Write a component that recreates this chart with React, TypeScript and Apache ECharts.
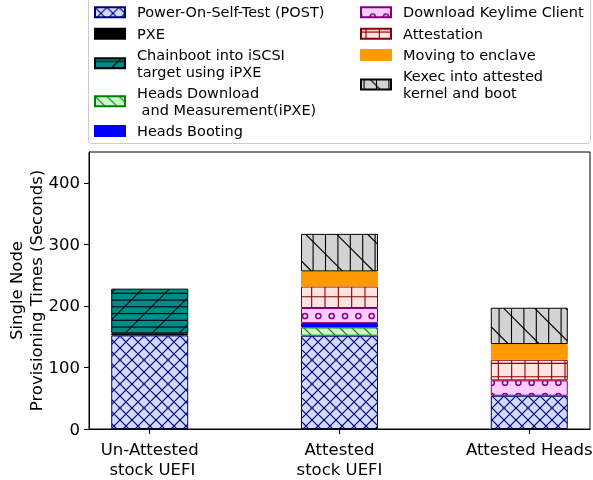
import React, { useEffect, useRef } from 'react';
import * as echarts from 'echarts';

const FONT = '"DejaVu Sans", sans-serif';

const categories = ['Un-Attested\n stock UEFI', 'Attested\nstock UEFI', 'Attested Heads'];
const seriesNames = [
  'Power-On-Self-Test (POST)',
  'PXE',
  'Chainboot into iSCSI\ntarget using iPXE',
  'Heads Download\n and Measurement(iPXE)',
  'Heads Booting',
  'Download Keylime Client',
  'Attestation',
  'Moving to enclave',
  'Kexec into attested\nkernel and boot',
];
const post = [152, 151.5, 54];
const pxe = [3.5, null, null];
const chainboot = [72.5, null, null];
const headsDownload = [null, 13.5, null];
const headsBooting = [null, 7, null];
const keylime = [null, 24.5, 25];
const attestation = [null, 35, 33.5];
const moving = [null, 24.5, 25.5];
const kexec = [null, 61, 59];
const yTicks = [0, 100, 200, 300, 400];

function tile(w: number, h: number, bg: string, inner: string) {
  const svg = `<svg xmlns="http://www.w3.org/2000/svg" width="${w}" height="${h}" viewBox="0 0 ${w} ${h}"><rect width="${w}" height="${h}" fill="${bg}"/>${inner}</svg>`;
  return {
    image: 'data:image/svg+xml;charset=utf-8,' + encodeURIComponent(svg),
    repeat: 'repeat',
    imageWidth: w,
    imageHeight: h,
  };
}
// lines x + y = c
function slash(T: number, cs: number[], stroke: string, w = 1.1) {
  return cs
    .map((c) => `<path d="M${c + 3},-3L-3,${c + 3}" stroke="${stroke}" stroke-width="${w}" fill="none"/>`)
    .join('');
}
// lines x - y = c
function backslash(T: number, cs: number[], stroke: string, w = 1.1) {
  return cs
    .map((c) => `<path d="M-3,${-3 - c}L${T + 3},${T + 3 - c}" stroke="${stroke}" stroke-width="${w}" fill="none"/>`)
    .join('');
}
function hlines(T: number, ys: number[], stroke: string, w = 1.1) {
  return ys.map((y) => `<path d="M-1,${y}L${T + 1},${y}" stroke="${stroke}" stroke-width="${w}"/>`).join('');
}
function vlines(T: number, xs: number[], stroke: string, w = 1.1) {
  return xs.map((x) => `<path d="M${x},-1L${x},${T + 1}" stroke="${stroke}" stroke-width="${w}"/>`).join('');
}

const navy = '#000080';
const postFill = tile(12, 12, '#d0dcfa', slash(12, [0, 12, 24], navy, 1.2) + backslash(12, [-12, 0, 12], navy, 1.2));
const chainFill = tile(
  27,
  27,
  '#008b8b',
  hlines(27, [3.05, 9.8, 16.55, 23.3], '#000') + slash(27, [-0.7, 26.3, 53.3], '#000')
);
const headsDlFill = tile(12, 12, '#ccf5cc', backslash(12, [-12, 0, 12], '#008000'));
const keylimeFill = (() => {
  let inner = '';
  const p = 40 / 3;
  for (let i = -1; i <= 3; i++) {
    for (let j = -1; j <= 3; j++) {
      const cx = 11.7 + p * i;
      const cy = 9.33 + p * j;
      inner += `<circle cx="${cx.toFixed(2)}" cy="${cy.toFixed(2)}" r="2.6" stroke="#800080" stroke-width="1.5" fill="none"/>`;
    }
  }
  return tile(40, 40, '#ffccff', inner);
})();
const attestFill = tile(
  40,
  40,
  '#ffe4e1',
  vlines(40, [5.0, 18.33, 31.67], '#8b0000') + hlines(40, [3.37, 16.7, 30.03], '#8b0000')
);
const kexecFill = tile(
  62,
  62,
  '#d3d3d3',
  vlines(62, [3.1, 15.5, 27.9, 40.3, 52.7], '#000') + backslash(62, [9.4 - 62, 9.4 - 31, 9.4, 40.4, 71.4], '#000')
);

const seriesValues = [post, pxe, chainboot, headsDownload, headsBooting, keylime, attestation, moving, kexec];
const seriesColors: any[] = [postFill, '#000000', chainFill, headsDlFill, '#0000ff', keylimeFill, attestFill, '#ff9900', kexecFill];
const seriesEdges = [navy, '#000000', '#000000', '#008000', '#0000ff', '#800080', '#8b0000', '#ff9900', '#000000'];

// plot frame: x from 89 to 590; data x-range -0.32..2.32
const PLOT_L = 89;
const PLOT_R = 590;
const X_MIN = -0.32;
const X_MAX = 2.32;
const UNIT = (PLOT_R - PLOT_L) / (X_MAX - X_MIN);
const BAR_GRID_L = PLOT_L + (0 - X_MIN) * UNIT - UNIT / 2;
const BAR_GRID_W = categories.length * UNIT;

export default function App() {
  const ref = useRef<HTMLDivElement>(null);
  useEffect(() => {
    if (!ref.current) return;
    const chart = echarts.init(ref.current, undefined, { renderer: 'svg' });
    const legendCommon = {
      orient: 'vertical',
      top: 4,
      itemGap: 4.6,
      itemWidth: 30,
      itemHeight: 10,
      icon: 'rect',
      padding: 0,
      selectedMode: false,
      textStyle: { fontFamily: FONT, fontSize: 14.5, lineHeight: 16.7, color: '#000', padding: [0, 0, 0, 7] },
    };
    chart.setOption({
      animation: false,
      textStyle: { fontFamily: FONT },
      grid: [
        {
          left: PLOT_L,
          width: PLOT_R - PLOT_L,
          top: 152,
          bottom: 51,
          show: true,
          borderColor: '#000',
          borderWidth: 1,
          backgroundColor: 'transparent',
          containLabel: false,
          outerBoundsMode: 'none',
          z: 5,
        },
        {
          left: BAR_GRID_L,
          width: BAR_GRID_W,
          top: 152,
          bottom: 51,
          show: false,
          containLabel: false,
          outerBoundsMode: 'none',
        },
      ],
      legend: [
        { ...legendCommon, left: 94, data: seriesNames.slice(0, 5) },
        { ...legendCommon, left: 360, data: seriesNames.slice(5) },
      ],
      graphic: [
        {
          type: 'rect',
          silent: true,
          shape: { x: 88.5, y: -4, width: 502, height: 147.5, r: 3 },
          style: { fill: 'none', stroke: '#cccccc', lineWidth: 1 },
        },
      ],
      xAxis: [
        {
          type: 'value',
          gridIndex: 0,
          min: X_MIN,
          max: X_MAX,
          splitLine: { show: false },
          axisLine: { show: true, onZero: false, lineStyle: { color: '#000', width: 1 } },
          axisTick: { show: true, length: 5, lineStyle: { color: '#000' }, customValues: [0, 1, 2] },
          axisLabel: {
            customValues: [0, 1, 2],
            formatter: (v: number) => categories[Math.round(v)] ?? '',
            fontFamily: FONT,
            fontSize: 16.5,
            lineHeight: 19.8,
            color: '#000',
            margin: 11,
          },
        },
        {
          type: 'category',
          gridIndex: 1,
          data: categories,
          show: false,
        },
      ],
      yAxis: [
        {
          type: 'value',
          gridIndex: 0,
          min: 0,
          max: 450,
          name: 'Single Node\nProvisioning Times (Seconds)',
          nameLocation: 'middle',
          nameGap: 43,
          nameMoveOverlap: false,
          nameTextStyle: { fontFamily: FONT, fontSize: 16.5, lineHeight: 19.8, color: '#000' },
          splitLine: { show: false },
          axisLine: { show: true, onZero: false, lineStyle: { color: '#000', width: 1 } },
          axisTick: { show: true, length: 5, lineStyle: { color: '#000' }, customValues: yTicks },
          axisLabel: { customValues: yTicks, fontFamily: FONT, fontSize: 16.5, color: '#000', margin: 9 },
        },
        {
          type: 'value',
          gridIndex: 1,
          min: 0,
          max: 450,
          show: false,
          splitLine: { show: false },
        },
      ],
      series: seriesNames.map((name, i) => ({
        name,
        type: 'bar',
        xAxisIndex: 1,
        yAxisIndex: 1,
        stack: 'total',
        barWidth: 77,
        emphasis: { disabled: true },
        itemStyle: { color: seriesColors[i], borderColor: seriesEdges[i], borderWidth: 1 },
        data: seriesValues[i],
      })),
    });
    return () => chart.dispose();
  }, []);
  return <div ref={ref} style={{ position: 'fixed', left: 0, top: 0, width: 593, height: 480 }} />;
}
